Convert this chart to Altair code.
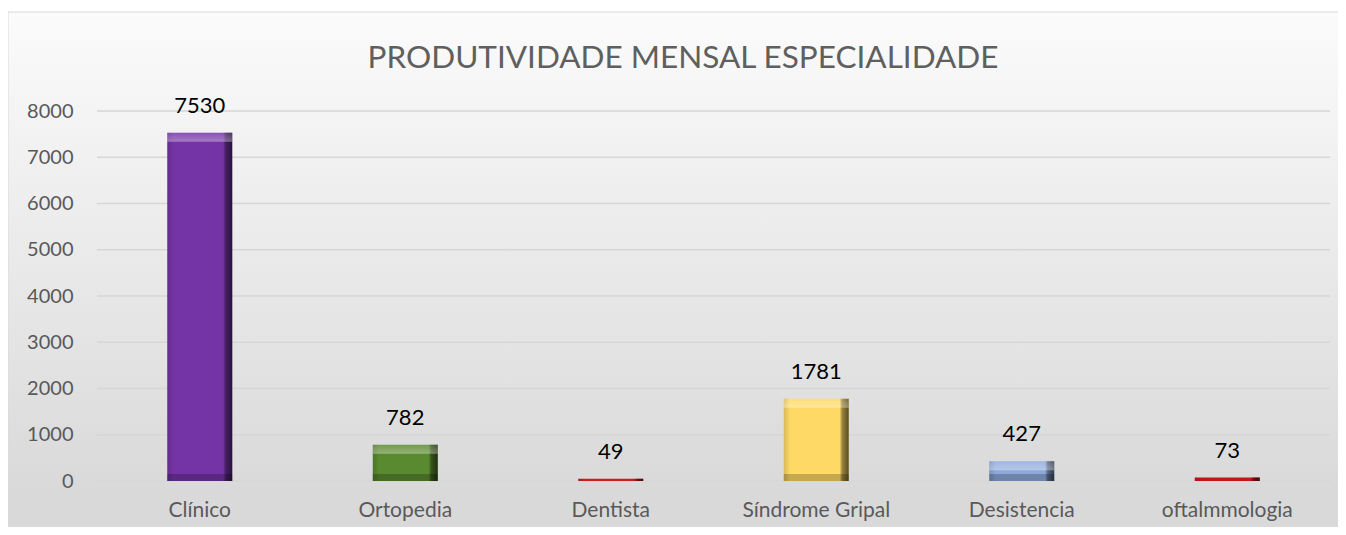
import altair as alt
import pandas as pd

categories = ["Clínico", "Ortopedia", "Dentista", "Síndrome Gripal", "Desistencia", "oftalmmologia"]
values = [7530, 782, 49, 1781, 427, 73]
colors = ["#7434a6", "#5a8a30", "#c81e1e", "#fed966", "#8eaadb", "#c01818"]
y_ticks = [0, 1000, 2000, 3000, 4000, 5000, 6000, 7000, 8000]
title_text = "PRODUTIVIDADE MENSAL ESPECIALIDADE"

df = pd.DataFrame({"cat": categories, "val": values, "col": colors})
grid_df = pd.DataFrame({"tick": y_ticks})

W, H = 1233, 370
FONT = "Lato"

x_enc = alt.X("cat:N", sort=categories,
              scale=alt.Scale(paddingInner=0.684, paddingOuter=0.342),
              axis=alt.Axis(title=None, labelAngle=0, labelFont=FONT, labelFontSize=21,
                            labelColor="#595959", domain=False, ticks=False,
                            labelPadding=18, grid=False, zindex=1))
y_enc = alt.Y("val:Q", scale=alt.Scale(domain=[0, 8000], nice=False),
              axis=alt.Axis(title=None, values=y_ticks, format="d", labelFont=FONT,
                            labelFontSize=20, labelColor="#595959", domain=False,
                            ticks=False, labelPadding=24, grid=False, zindex=1))

base = alt.Chart(df)

bg = base.transform_filter("datum.cat == 'Clínico'").mark_rect(
    clip=False,
    stroke="#d9d9d9", strokeWidth=1,
    fill=alt.Gradient(gradient="linear", x1=0, y1=0, x2=0, y2=1,
                      stops=[alt.GradientStop(offset=0, color="#fbfbfb"),
                             alt.GradientStop(offset=0.91, color="#d9d9d9"),
                             alt.GradientStop(offset=1, color="#d9d9d9")])
).encode(x=alt.value(-89), x2=alt.value(W + 20), y=alt.value(-99), y2=alt.value(H + 60))

grid = alt.Chart(grid_df).mark_rule(color="#d6d6d6", strokeWidth=1.5).encode(
    y=alt.Y("tick:Q", scale=alt.Scale(domain=[0, 8000], nice=False)),
    x=alt.value(0), x2=alt.value(W))

bars = base.mark_bar().encode(
    x=x_enc, y=y_enc,
    color=alt.Color("col:N", scale=None, legend=None),
)

shade = base.mark_bar(
    fill=alt.Gradient(gradient="linear", x1=0, y1=0, x2=1, y2=0,
                      stops=[alt.GradientStop(offset=0, color="rgba(0,0,0,0.15)"),
                             alt.GradientStop(offset=0.1, color="rgba(0,0,0,0)"),
                             alt.GradientStop(offset=0.86, color="rgba(0,0,0,0)"),
                             alt.GradientStop(offset=0.9, color="rgba(0,0,0,0.4)"),
                             alt.GradientStop(offset=1, color="rgba(0,0,0,0.65)")])
).encode(x=alt.X("cat:N", sort=categories), y="val:Q")

top_strip = base.transform_filter("datum.val > 300").mark_bar(
    fill=alt.Gradient(gradient="linear", x1=0, y1=0, x2=0, y2=1,
                      stops=[alt.GradientStop(offset=0, color="rgba(255,255,255,0.15)"),
                             alt.GradientStop(offset=1, color="rgba(255,255,255,0.35)")]),
    y2Offset=9
).encode(x=alt.X("cat:N", sort=categories), y="val:Q", y2="val:Q")

bottom_strip = base.transform_filter("datum.val > 300").mark_bar(
    fill="rgba(0,0,0,0.22)", yOffset=-7
).encode(x=alt.X("cat:N", sort=categories), y=alt.datum(0), y2=alt.datum(0))

labels = base.mark_text(font=FONT, fontSize=22, color="#000000",
                        baseline="alphabetic", dy=-20).encode(
    x=alt.X("cat:N", sort=categories), y="val:Q", text="val:Q")

title = base.transform_filter("datum.cat == 'Clínico'").mark_text(
    font=FONT, fontSize=31.5, fontWeight="normal", color="#5f5f5f", align="center",
    baseline="alphabetic", text=title_text
).encode(x=alt.value(586), y=alt.value(-43))

chart = alt.layer(bg, grid, bars, shade, top_strip, bottom_strip, labels, title).properties(
    width=W, height=H,
    autosize=alt.AutoSizeParams(type="none"),
    padding={"left": 89, "top": 103, "right": 8, "bottom": 46},
).configure_view(stroke=None).configure(background="white")

chart.save("out.html", embed_options={"renderer": "svg", "actions": False})
